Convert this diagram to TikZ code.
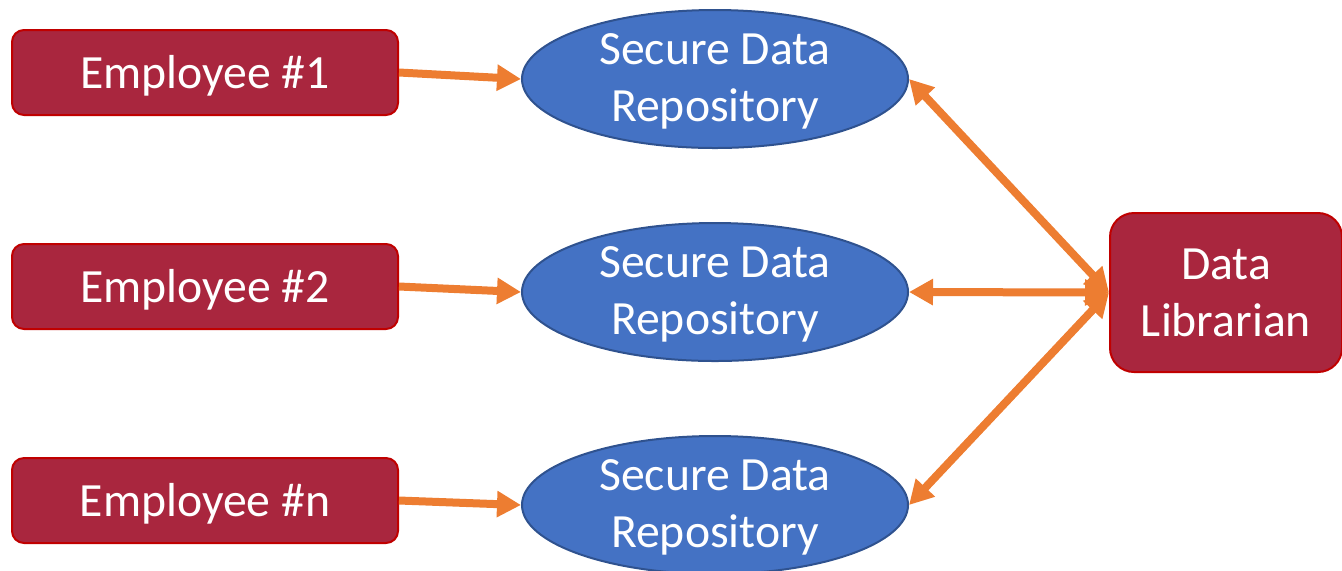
\documentclass[tikz,border=0pt]{standalone}
\usepackage{fontspec}
\setmainfont{Carlito}
\usetikzlibrary{shapes.geometric,arrows.meta}
\begin{document}
\begin{tikzpicture}[x=0.5pt,y=-0.5pt,
  emp_box/.style={shape=rectangle,draw=emp_border,fill=emp_fill,line width=1pt,rounded corners=6pt,minimum width=193pt,minimum height=42.5pt,text=white,text height=20.5pt,text depth=4.8pt,font=\fontsize{23.85}{28.5}\selectfont},
  repo_ell/.style={shape=ellipse,draw=repo_border,fill=repo_fill,line width=1pt,inner sep=0pt,minimum width=193pt,minimum height=69pt,text=white,align=center,text depth=1pt,font=\fontsize{23.85}{28.5}\selectfont},
  lib_box/.style={shape=rectangle,draw=emp_border,fill=emp_fill,line width=1pt,rounded corners=12pt,minimum width=116pt,minimum height=79.5pt,text=white,align=center,font=\fontsize{23.85}{28.5}\selectfont},
  flow/.style={line width=4pt,draw=flow_col,-{Triangle[length=12pt,width=12.5pt]}},
  flow2/.style={flow,{Triangle[length=12pt,width=12.5pt]}-{Triangle[length=12pt,width=12.5pt]}}]
\definecolor{emp_fill}{RGB}{169,38,62}
\definecolor{emp_border}{RGB}{192,0,0}
\definecolor{repo_fill}{RGB}{68,114,196}
\definecolor{repo_border}{RGB}{47,82,143}
\definecolor{flow_col}{RGB}{237,125,49}
\useasboundingbox (0,0) rectangle (1342,570);

\node[emp_box] (emp1) at (205,72.5) {Employee \#1};
\node[emp_box] (emp2) at (205,286.5) {Employee \#2};
\node[emp_box] (empn) at (205,500.5) {Employee \#n};

\node[repo_ell] (repo1) at (715,79) {Secure Data\\Repository};
\node[repo_ell] (repo2) at (715,292) {Secure Data\\Repository};
\node[repo_ell] (repon) at (715,505) {Secure Data\\Repository};

\node[lib_box] (lib) at (1226,292.5) {Data\\Librarian};

\draw[flow] (emp1.east) to (repo1.west);
\draw[flow] (emp2.east) to (repo2.west);
\draw[flow] (empn.east) to (repon.west);

\draw[flow2] (repo1.east) to (lib.west);
\draw[flow2] (repo2.east) to (lib.west);
\draw[flow2] (repon.east) to (lib.west);
\end{tikzpicture}
\end{document}
